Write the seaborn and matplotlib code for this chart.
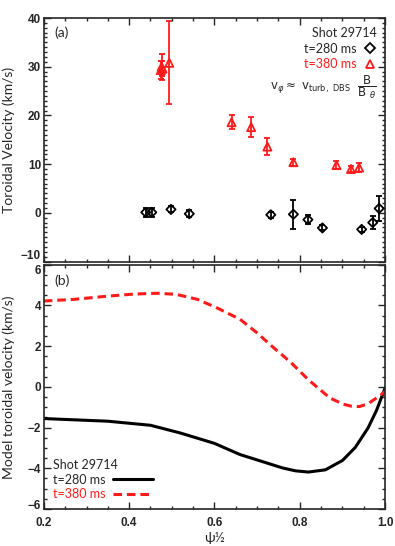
import numpy as np
import pandas as pd
import matplotlib
matplotlib.use("Agg")
import matplotlib.pyplot as plt
import seaborn as sns
from matplotlib.ticker import MultipleLocator, FormatStrFormatter
from matplotlib.lines import Line2D

# ----------------------------------------
# Datos medidos (panel a)
psi_280 = [0.439, 0.453, 0.498, 0.541, 0.732, 0.785, 0.819, 0.853, 0.945, 0.971, 0.986]
v_280 = [0.1, 0.1, 0.7, -0.2, -0.4, -0.3, -1.4, -3.1, -3.4, -2.0, 0.9]
err_280 = [0.9, 0.9, 0.6, 0.7, 0.6, 3.0, 0.9, 0.5, 0.5, 1.4, 2.5]

psi_380 = [0.474, 0.476, 0.478, 0.494, 0.640, 0.686, 0.724, 0.785, 0.886, 0.920, 0.939]
v_380 = [29.3, 30.0, 29.6, 30.8, 18.6, 17.6, 13.6, 10.4, 9.8, 9.0, 9.3]
err_380 = [1.8, 2.7, 1.5, 8.5, 1.4, 2.0, 1.7, 0.7, 0.8, 0.7, 1.0]

# Modelo (panel b)
psi_m280 = [0.2, 0.27, 0.35, 0.45, 0.52, 0.6, 0.66, 0.71, 0.76, 0.79, 0.82,
            0.86, 0.9, 0.93, 0.96, 0.98, 1.0]
v_m280 = [-1.56, -1.62, -1.69, -1.89, -2.27, -2.78, -3.33, -3.66, -3.99, -4.13,
          -4.19, -4.08, -3.62, -2.98, -2.02, -1.15, -0.05]
psi_m380 = [0.2, 0.27, 0.35, 0.41, 0.465, 0.51, 0.56, 0.605, 0.66, 0.7, 0.73,
            0.78, 0.82, 0.87, 0.9, 0.92, 0.94, 0.96, 0.99, 1.0]
v_m380 = [4.22, 4.30, 4.46, 4.56, 4.6, 4.55, 4.3, 3.89, 3.32, 2.65, 2.08,
          1.18, 0.35, -0.54, -0.84, -0.95, -0.97, -0.83, -0.4, -0.21]

sns.set_style("ticks")
plt.rcParams['font.family'] = ['Lato', 'DejaVu Sans']
plt.rcParams['mathtext.fontset'] = 'dejavusans'

fig = plt.figure(figsize=(3.95, 5.46), dpi=100)
ax1 = fig.add_axes([0.111, 0.521, 0.864, 0.446])
ax2 = fig.add_axes([0.111, 0.068, 0.864, 0.447])

ROJO = "#ff1a1a"
TICKFONT = dict(family="Liberation Sans", weight="bold", size=8.5)
GUIONES = [2.8, 1.6]

# ----------------------------------------
# Panel (a)
ax1.errorbar(psi_280, v_280, yerr=err_280, fmt="none", ecolor="black",
             elinewidth=1.3, capsize=2.5, capthick=1.3)
ax1.errorbar(psi_380, v_380, yerr=err_380, fmt="none", ecolor=ROJO,
             elinewidth=1.3, capsize=2.5, capthick=1.3)
sns.scatterplot(x=psi_280, y=v_280, ax=ax1, marker="D", s=22,
                facecolor="none", edgecolor="black", linewidth=1.3, zorder=3)
sns.scatterplot(x=psi_380, y=v_380, ax=ax1, marker="^", s=34,
                facecolor="none", edgecolor=ROJO, linewidth=1.3, zorder=3)

ax1.set_xlim(0.2, 1.0)
ax1.set_ylim(-10, 40)
ax1.yaxis.set_major_locator(MultipleLocator(10))
ax1.yaxis.set_minor_locator(MultipleLocator(1))
ax1.set_ylabel("Toroidal Velocity (km/s)", fontsize=10)
ax1.tick_params(labelbottom=False)
ax1.text(0.03, 0.94, "(a)", transform=ax1.transAxes, fontsize=10, va="center")

h1 = [Line2D([], [], ls="none", marker="D", ms=5, mfc="none", mec="black", mew=1.3),
      Line2D([], [], ls="none", marker="^", ms=6, mfc="none", mec=ROJO, mew=1.3)]
leg1 = ax1.legend(h1, ["t=280 ms", "t=380 ms"], title="Shot 29714",
                  loc="upper right", frameon=False, markerfirst=False,
                  fontsize=9, title_fontsize=9, handlelength=1.0,
                  handletextpad=0.6, labelspacing=0.3, borderaxespad=0.3)
leg1._legend_box.align = "right"
leg1.get_texts()[1].set_color(ROJO)
ax1.text(0.975, 0.715,
         r"$\mathrm{v}_\varphi \approx\ \mathrm{v}_{\rm turb,\ DBS}\ \ \dfrac{\mathrm{B}}{\mathrm{B}\ _\theta}$",
         transform=ax1.transAxes, fontsize=8.5, ha="right", va="center")

# ----------------------------------------
# Panel (b)
sns.lineplot(x=psi_m280, y=v_m280, ax=ax2, color="black", linewidth=2.2)
sns.lineplot(x=psi_m380, y=v_m380, ax=ax2, color=ROJO, linewidth=2.2)
ax2.lines[1].set_dashes(GUIONES)

ax2.set_xlim(0.2, 1.0)
ax2.set_ylim(-6, 6)
ax2.yaxis.set_major_locator(MultipleLocator(2))
ax2.yaxis.set_minor_locator(MultipleLocator(0.5))
ax2.set_ylabel("Model toroidal velocity (km/s)", fontsize=10)
ax2.set_xlabel("ψ½", fontsize=10, labelpad=2)
ax2.text(0.03, 0.935, "(b)", transform=ax2.transAxes, fontsize=10, va="center")

h2 = [Line2D([], [], color="black", lw=2.2),
      Line2D([], [], color=ROJO, lw=2.2, dashes=GUIONES)]
leg2 = ax2.legend(h2, ["t=280 ms", "t=380 ms"], title="Shot 29714",
                  loc="lower left", frameon=False, markerfirst=False,
                  fontsize=9, title_fontsize=9, handlelength=3.2,
                  handletextpad=0.6, labelspacing=0.2, borderaxespad=0.3)
leg2._legend_box.align = "left"
leg2.get_texts()[1].set_color(ROJO)

for ax in (ax1, ax2):
    ax.xaxis.set_major_locator(MultipleLocator(0.2))
    ax.xaxis.set_minor_locator(MultipleLocator(0.05))
    ax.xaxis.set_major_formatter(FormatStrFormatter("%.1f"))
    ax.tick_params(which="both", direction="in", top=True, right=True, width=1.0)
    ax.tick_params(axis="y", pad=2)
    ax.tick_params(axis="x", pad=6)
    ax.tick_params(which="major", length=5)
    ax.tick_params(which="minor", length=2.5)
    ax.yaxis.set_label_coords(-0.085, 0.5)
    for s in ax.spines.values():
        s.set_linewidth(1.2)

fig.canvas.draw()
for ax in (ax1, ax2):
    for lab in ax.get_xticklabels() + ax.get_yticklabels():
        lab.set_fontproperties(TICKFONT)
# ajustar las etiquetas en los bordes de los paneles
for t in ax1.yaxis.get_major_ticks():
    if np.isclose(t.get_loc(), -10):
        t.label1.set_va("bottom")
for t in ax2.yaxis.get_major_ticks():
    if np.isclose(t.get_loc(), 6):
        t.label1.set_va("top")
    if np.isclose(t.get_loc(), -6):
        t.label1.set_va("baseline")

fig.savefig("out.png", dpi=100)
